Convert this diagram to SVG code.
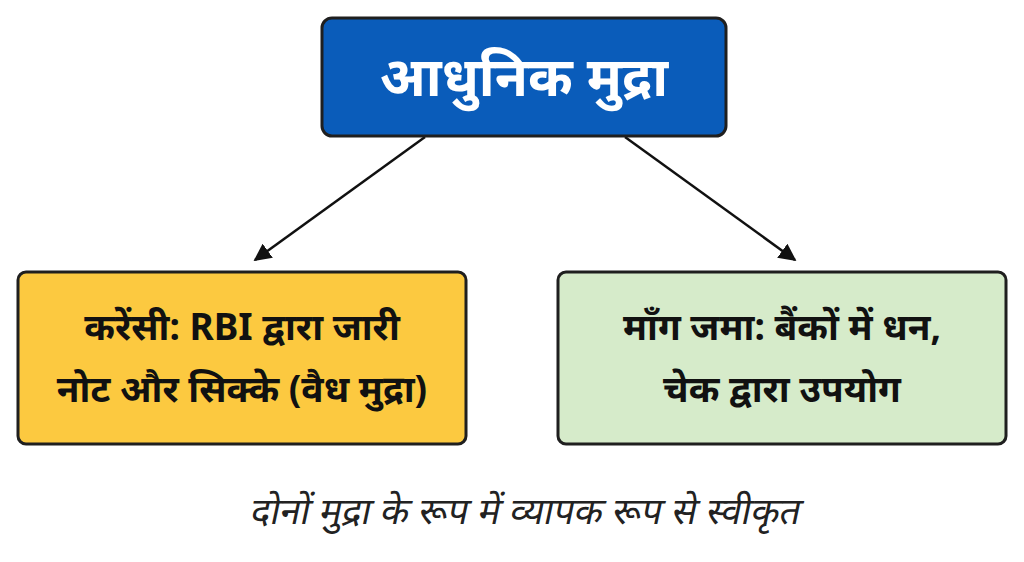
<svg xmlns="http://www.w3.org/2000/svg" width="1024" height="562" viewBox="0 0 1024 562">
<style>
.t{font-family:"Noto Sans","Noto Sans Devanagari","DejaVu Sans",sans-serif;text-anchor:middle}
.box{stroke:#1f1f1f;stroke-width:3}
.c{stroke:#111;stroke-width:2.5;fill:none;marker-end:url(#a)}
</style>
<defs><marker id="a" viewBox="0 0 10 10" refX="9" refY="5" markerWidth="7" markerHeight="7" orient="auto"><path d="M0,0L10,5L0,10z" fill="#111"/></marker></defs>
<rect width="1024" height="562" fill="#fff"/>
<g id="connectors">
<line class="c" x1="425" y1="137" x2="255" y2="260"/>
<line class="c" x1="625" y1="137" x2="795" y2="260"/>
</g>
<g id="top"><rect class="box" x="322" y="18" width="404" height="118" rx="10" fill="#0a5cba"/>
<text class="t" x="524" y="96" font-size="54" font-weight="bold" fill="#fff">आधुनिक मुद्रा</text></g>
<g id="left"><rect class="box" x="18" y="272" width="448" height="172" rx="8" fill="#fcc940"/>
<text class="t" x="242" y="340" font-size="37" font-weight="bold" fill="#111">करेंसी: RBI द्वारा जारी</text>
<text class="t" x="242" y="402" font-size="37" font-weight="bold" fill="#111">नोट और सिक्के (वैध मुद्रा)</text></g>
<g id="right"><rect class="box" x="558" y="272" width="448" height="172" rx="8" fill="#d6ebca"/>
<text class="t" x="782" y="340" font-size="37" font-weight="bold" fill="#111">माँग जमा: बैंकों में धन,</text>
<text class="t" x="782" y="402" font-size="37" font-weight="bold" fill="#111">चेक द्वारा उपयोग</text></g>
<g id="note"><text class="t" x="0" y="0" font-size="37" fill="#222" transform="translate(524,524) skewX(-12)">दोनों मुद्रा के रूप में व्यापक रूप से स्वीकृत</text></g>
</svg>
